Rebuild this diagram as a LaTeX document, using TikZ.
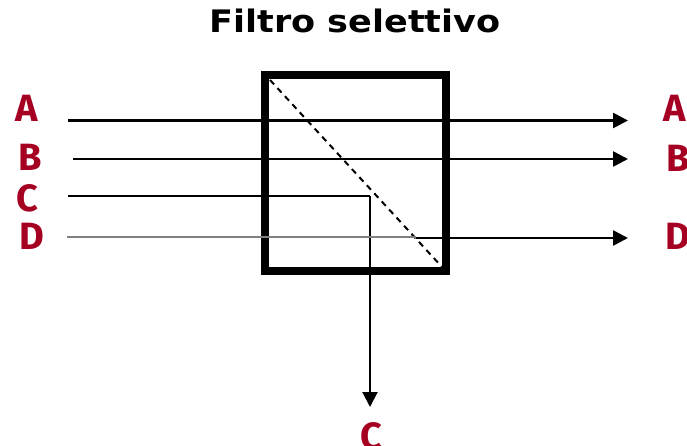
\documentclass[tikz,border=0pt]{standalone}
\usepackage{fontspec}
\setmainfont{Fira Sans}
\newfontfamily\titlefont{DejaVu Sans}
\usetikzlibrary{arrows.meta}
\definecolor{lblred}{HTML}{A50021}
\tikzset{
  lbl/.style={text=lblred,font=\fontsize{38}{38}\selectfont\bfseries,inner sep=0pt},
  ray/.style={line width=2.6pt,black},
  rayarrow/.style={ray,-{Triangle[length=15pt,width=15pt]}},
  frame/.style={line width=7.5pt,black},
}
\begin{document}
\begin{tikzpicture}[x=1pt,y=-1pt]
\useasboundingbox (0,0) rectangle (687,446);
\node[font=\titlefont\fontsize{31}{31}\selectfont\bfseries,inner sep=0pt,anchor=base] (title) at (355,33) {\scalebox{1.13}[1]{Filtro selettivo}};
% box
\draw[frame] (265,75) rectangle (446,271);
\coordinate (dtl) at (270,80);
\coordinate (dbr) at (442,267);
\draw[line width=2pt,dash pattern=on 6pt off 5pt] (dtl) -- (dbr);
% labels
\node[lbl] (inA) at (27,108) {A};
\node[lbl] (inB) at (30,157) {B};
\node[lbl] (inC) at (27,198) {C};
\node[lbl] (inD) at (32,236) {D};
\node[lbl] (outA) at (675,108) {A};
\node[lbl] (outB) at (678,158) {B};
\node[lbl] (outD) at (678,236) {D};
\node[lbl] (outC) at (371,436) {C};
% ray endpoints
\coordinate (sA) at (68,120.5);
\coordinate (eA) at (628,120.5);
\coordinate (sB) at (73,159);
\coordinate (eB) at (628,159);
\coordinate (sC) at (68,196);
\coordinate (kC) at (370,196);
\coordinate (eC) at (370,407);
\coordinate (sD) at (67,236.5);
\coordinate (kD) at (416,236.5);
\coordinate (kD2) at (416,238);
\coordinate (eD) at (628,238);
\draw[rayarrow] (sA) -- (eA);
\draw[rayarrow] (sB) -- (eB);
\draw[ray,line width=2pt] (sC) -- (kC);
\draw[rayarrow,line width=2pt] (kC) -- (eC);
\draw[line width=2pt,gray] (sD) -- (kD);
\draw[rayarrow] (kD2) -- (eD);
\end{tikzpicture}
\end{document}
